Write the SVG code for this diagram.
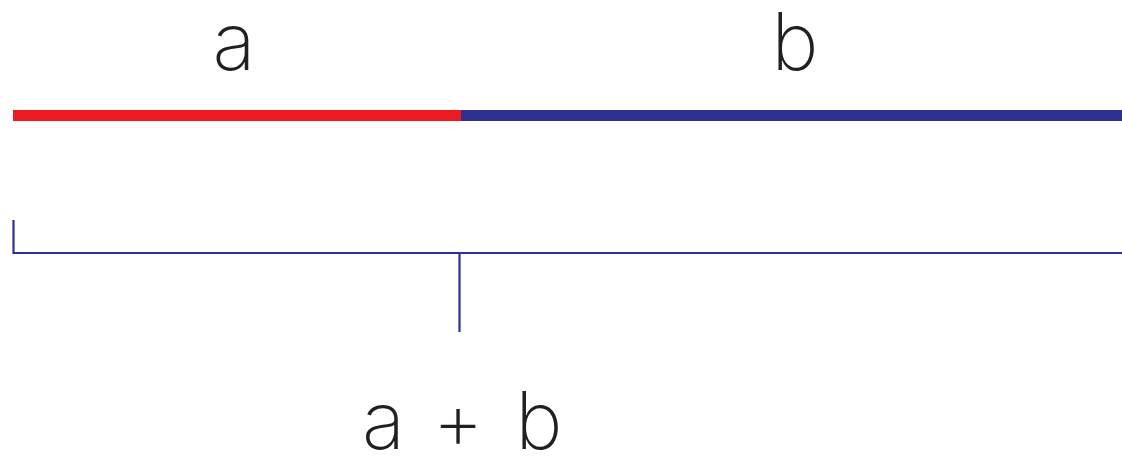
<svg xmlns="http://www.w3.org/2000/svg" width="1122" height="460" viewBox="0 0 1122 460">
<style>
.lbl{font-family:Inter,"Liberation Sans",sans-serif;font-weight:200;font-size:80px;fill:#231f20;text-anchor:middle}
.br{stroke:#2e3192;stroke-width:2.2;fill:none}
</style>
<rect width="1122" height="460" fill="#fff"/>
<g id="segment-a">
<line x1="13" y1="115.5" x2="461" y2="115.5" stroke="#ed1c24" stroke-width="11"/>
<text class="lbl" x="234" y="70">a</text>
</g>
<g id="segment-b">
<line x1="461" y1="115.5" x2="1122" y2="115.5" stroke="#2e3192" stroke-width="11"/>
<text class="lbl" x="795" y="70">b</text>
</g>
<g id="connectors">
<path class="br" d="M13.5,220 V253 H1122"/>
<line class="br" x1="459.5" y1="253" x2="459.5" y2="332"/>
</g>
<g id="sum">
<text class="lbl" y="449"><tspan x="383.5">a</tspan><tspan x="458">+</tspan><tspan x="539">b</tspan></text>
</g>
</svg>
